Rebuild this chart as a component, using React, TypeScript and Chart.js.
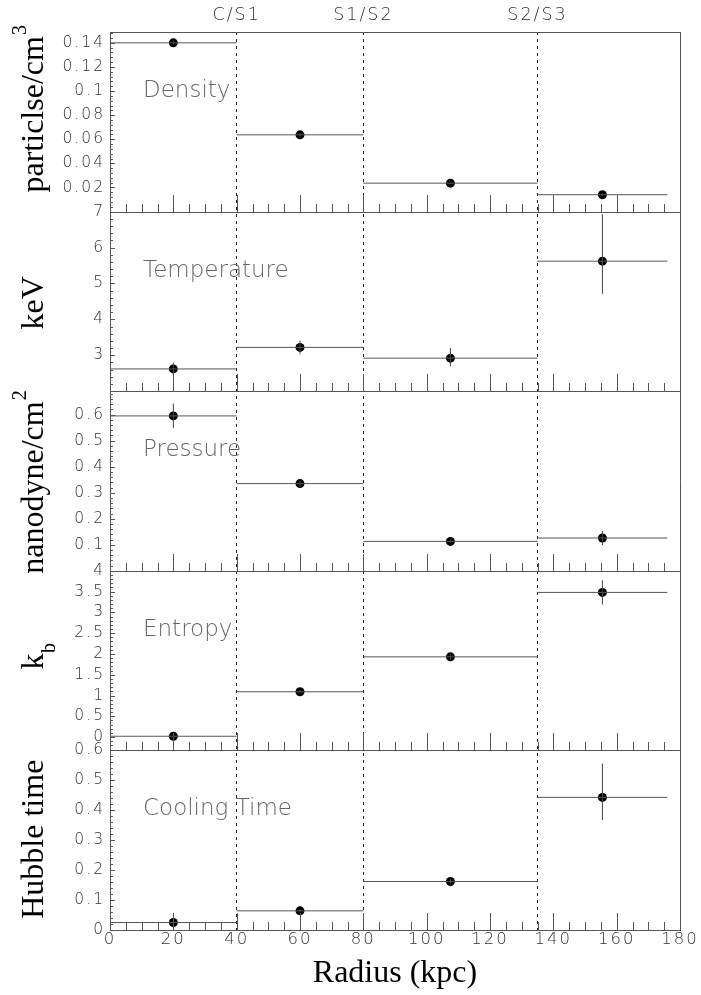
import { useEffect, useRef } from 'react';
import { Chart, registerables } from 'chart.js';

Chart.register(...registerables);

// ---------- data ----------
const binEdges = [0, 40, 80, 135, 176];
const binCenters = [20, 60, 107.5, 155.5];
const boundaryPositions = [40, 80, 135];
const boundaryLabels = ['C/S1', 'S1/S2', 'S2/S3'];
const xTickValues = [0, 20, 40, 60, 80, 100, 120, 140, 160, 180];

const densityValues = [0.14, 0.0637, 0.0236, 0.014];
const densityErrUp = [0.002, 0.0015, 0.001, 0.001];
const densityErrDown = [0.002, 0.0015, 0.001, 0.001];
const densityTicks = [0.02, 0.04, 0.06, 0.08, 0.1, 0.12, 0.14];

const temperatureValues = [2.62, 3.22, 2.92, 5.62];
const temperatureErrUp = [0.18, 0.19, 0.28, 1.31];
const temperatureErrDown = [0.18, 0.19, 0.23, 0.91];
const temperatureTicks = [3, 4, 5, 6, 7];

const pressureValues = [0.595, 0.335, 0.113, 0.126];
const pressureErrUp = [0.047, 0.012, 0.006, 0.027];
const pressureErrDown = [0.047, 0.012, 0.006, 0.027];
const pressureTicks = [0.1, 0.2, 0.3, 0.4, 0.5, 0.6];

const entropyValues = [0.02, 1.09, 1.93, 3.48];
const entropyErrUp = [0.03, 0.04, 0.07, 0.29];
const entropyErrDown = [0.03, 0.04, 0.07, 0.29];
const entropyTicks = [0, 0.5, 1, 1.5, 2, 2.5, 3, 3.5, 4];

const coolingValues = [0.025, 0.064, 0.162, 0.443];
const coolingErrUp = [0.004, 0.005, 0.008, 0.113];
const coolingErrDown = [0.004, 0.005, 0.008, 0.076];
const coolingTicks = [0, 0.1, 0.2, 0.3, 0.4, 0.5, 0.6];

type Panel = {
  id: string;
  label: string;
  title: string;
  sup: string;
  sub: string;
  values: number[];
  up: number[];
  down: number[];
  ticks: number[];
  min: number;
  max: number;
  weight: number;
  titleShift: number;
};

const panels: Panel[] = [
  { id: 'y', label: 'Density', title: 'particlse/cm', sup: '3', sub: '', values: densityValues, up: densityErrUp, down: densityErrDown, ticks: densityTicks, min: 0, max: 0.149, weight: 5, titleShift: -13 },
  { id: 'yT', label: 'Temperature', title: 'keV', sup: '', sub: '', values: temperatureValues, up: temperatureErrUp, down: temperatureErrDown, ticks: temperatureTicks, min: 2, max: 7, weight: 4, titleShift: 1.5 },
  { id: 'yP', label: 'Pressure', title: 'nanodyne/cm', sup: '2', sub: '', values: pressureValues, up: pressureErrUp, down: pressureErrDown, ticks: pressureTicks, min: 0, max: 0.69, weight: 3, titleShift: 1 },
  { id: 'yE', label: 'Entropy', title: 'k', sup: '', sub: 'b', values: entropyValues, up: entropyErrUp, down: entropyErrDown, ticks: entropyTicks, min: -0.32, max: 4, weight: 2, titleShift: -4.5 },
  { id: 'yC', label: 'Cooling Time', title: 'Hubble time', sup: '', sub: '', values: coolingValues, up: coolingErrUp, down: coolingErrDown, ticks: coolingTicks, min: 0, max: 0.6, weight: 1, titleShift: -1 },
];

// ---------- styles ----------
const AXIS_COLOR = '#555';
const LABEL_COLOR = '#333';
const TICK_FONT = 'DejaVu Sans';
const SERIF = '"Liberation Serif", "Times New Roman", serif';

const fmt = (v: number) => String(Number(v.toFixed(4)));

const binLineData = (vals: number[]) =>
  vals.flatMap((v, i) => [
    { x: binEdges[i], y: v },
    { x: binEdges[i + 1], y: v },
    { x: binEdges[i + 1], y: null as any },
  ]);

const errLineData = (vals: number[], up: number[], down: number[]) =>
  vals.flatMap((v, i) => [
    { x: binCenters[i], y: v - down[i] },
    { x: binCenters[i], y: v + up[i] },
    { x: binCenters[i], y: null as any },
  ]);

const decorPlugin = {
  id: 'decor',
  beforeDraw(chart: any) {
    chart.ctx.letterSpacing = '2px';
  },
  afterDraw(chart: any) {
    const { ctx, chartArea: ca, scales } = chart;
    const xs = scales.x;
    ctx.save();
    ctx.letterSpacing = '0px';

    // frame: panel separators + right edge
    ctx.strokeStyle = AXIS_COLOR;
    ctx.lineWidth = 1;
    ctx.beginPath();
    panels.forEach((p) => {
      const s = scales[p.id];
      const y = Math.round(s.top) + 0.5;
      ctx.moveTo(ca.left, y);
      ctx.lineTo(ca.right, y);
    });
    const rx = Math.round(ca.right) + 0.5;
    ctx.moveTo(rx, ca.top);
    ctx.lineTo(rx, ca.bottom + 0.5);
    ctx.stroke();

    // x ticks inside each panel (pointing up from the panel bottom)
    ctx.beginPath();
    panels.forEach((p) => {
      const s = scales[p.id];
      const yb = Math.round(s.bottom);
      for (let v = xs.min; v <= xs.max + 1e-9; v += 5) {
        const major = xTickValues.some((t) => Math.abs(t - v) < 1e-9);
        const len = major ? 17 : 8;
        const x = Math.round(xs.getPixelForValue(v)) + 0.5;
        ctx.moveTo(x, yb);
        ctx.lineTo(x, yb - len);
      }
    });
    ctx.stroke();

    // y ticks inside (pointing right)
    ctx.beginPath();
    panels.forEach((p) => {
      const s = scales[p.id];
      const step = p.ticks[1] - p.ticks[0];
      const m = step / 5;
      const start = Math.ceil(s.min / m - 1e-6);
      for (let k = start; k * m <= s.max + 1e-9; k++) {
        const v = k * m;
        const major = p.ticks.some((t) => Math.abs(t - v) < m * 0.01);
        const len = major ? 5 : 3;
        const y = Math.round(s.getPixelForValue(v)) + 0.5;
        ctx.moveTo(ca.left, y);
        ctx.lineTo(ca.left + len, y);
      }
    });
    ctx.stroke();

    // panel labels
    ctx.fillStyle = '#666';
    ctx.font = `300 23px "${TICK_FONT}"`;
    ctx.textAlign = 'left';
    ctx.textBaseline = 'alphabetic';
    panels.forEach((p) => {
      const s = scales[p.id];
      ctx.fillText(p.label, ca.left + 33, s.top + 65);
    });

    // y titles (rotated)
    ctx.fillStyle = '#000';
    panels.forEach((p) => {
      const s = scales[p.id];
      const cy = (s.top + s.bottom) / 2 + p.titleShift;
      ctx.save();
      ctx.translate(43, cy);
      ctx.rotate(-Math.PI / 2);
      ctx.font = `32px ${SERIF}`;
      const mainW = ctx.measureText(p.title).width;
      ctx.font = `20px ${SERIF}`;
      const extra = p.sup || p.sub;
      const extraW = extra ? ctx.measureText(extra).width + 1 : 0;
      const total = mainW + extraW;
      const x0 = -total / 2;
      ctx.textAlign = 'left';
      ctx.textBaseline = 'alphabetic';
      ctx.font = `32px ${SERIF}`;
      ctx.fillText(p.title, x0, 0);
      if (p.sup) {
        ctx.font = `20px ${SERIF}`;
        ctx.fillText(p.sup, x0 + mainW + 1, -17);
      }
      if (p.sub) {
        ctx.font = `20px ${SERIF}`;
        ctx.fillText(p.sub, x0 + mainW + 0.5, 12);
      }
      ctx.restore();
    });

    // x title
    ctx.font = `32px ${SERIF}`;
    ctx.textAlign = 'center';
    ctx.textBaseline = 'alphabetic';
    ctx.fillText('Radius (kpc)', (ca.left + ca.right) / 2, 982);

    ctx.restore();
  },
};

export default function App() {
  const ref = useRef<HTMLCanvasElement>(null);

  useEffect(() => {
    const datasets: any[] = [];
    panels.forEach((p) => {
      datasets.push({
        type: 'scatter',
        data: binLineData(p.values),
        xAxisID: 'x',
        yAxisID: p.id,
        showLine: true,
        spanGaps: false,
        borderColor: '#555',
        borderWidth: 1,
        pointRadius: 0,
      });
      datasets.push({
        type: 'scatter',
        data: errLineData(p.values, p.up, p.down),
        xAxisID: 'x',
        yAxisID: p.id,
        showLine: true,
        spanGaps: false,
        borderColor: '#444',
        borderWidth: 1,
        pointRadius: 0,
      });
      datasets.push({
        type: 'scatter',
        data: p.values.map((v, i) => ({ x: binCenters[i], y: v })),
        xAxisID: 'x',
        yAxisID: p.id,
        pointRadius: 4.5,
        pointBackgroundColor: '#000',
        pointBorderColor: '#000',
        pointBorderWidth: 0,
      });
    });

    const scales: any = {
      x: {
        type: 'linear',
        position: 'bottom',
        min: 0,
        max: 180,
        afterBuildTicks: (s: any) => {
          s.ticks = xTickValues.map((v) => ({ value: v }));
        },
        afterFit: (s: any) => {
          s.height = 65;
        },
        grid: { display: false, drawTicks: false },
        border: { display: true, color: AXIS_COLOR, width: 1 },
        ticks: {
          font: { family: TICK_FONT, size: 16.5, weight: '300' },
          color: LABEL_COLOR,
          padding: 0,
          maxRotation: 0,
          autoSkip: false,
          callback: (v: any) => fmt(Number(v)),
        },
      },
      x2: {
        type: 'linear',
        position: 'top',
        min: 0,
        max: 180,
        afterBuildTicks: (s: any) => {
          s.ticks = boundaryPositions.map((v) => ({ value: v }));
        },
        afterFit: (s: any) => {
          s.height = 32;
        },
        grid: { display: true, drawOnChartArea: true, drawTicks: false, color: '#222', lineWidth: 1 },
        border: { display: false, dash: [3, 4] },
        ticks: {
          font: { family: TICK_FONT, size: 17.5, weight: '300' },
          color: LABEL_COLOR,
          padding: 6,
          maxRotation: 0,
          autoSkip: false,
          callback: (_v: any, i: number) => boundaryLabels[i],
        },
      },
    };

    panels.forEach((p) => {
      scales[p.id] = {
        type: 'linear',
        position: 'left',
        stack: 'panels',
        stackWeight: 1,
        weight: p.weight,
        min: p.min,
        max: p.max,
        offset: false,
        afterBuildTicks: (s: any) => {
          s.ticks = p.ticks.map((v) => ({ value: v }));
        },
        afterFit: (s: any) => {
          s.width = 110;
        },
        grid: { display: false, drawTicks: false },
        border: { display: true, color: AXIS_COLOR, width: 1 },
        ticks: {
          font: { family: TICK_FONT, size: 15.5, weight: '300' },
          color: LABEL_COLOR,
          padding: 5,
          autoSkip: false,
          callback: (v: any) => fmt(Number(v)),
        },
      };
    });

    const chart = new Chart(ref.current as HTMLCanvasElement, {
      type: 'scatter',
      data: { datasets },
      options: {
        responsive: false,
        devicePixelRatio: 1,
        animation: false,
        events: [],
        layout: { padding: { left: 0, right: 21, top: 0, bottom: 0 } },
        plugins: { legend: { display: false }, tooltip: { enabled: false } },
        scales,
      },
      plugins: [decorPlugin],
    } as any);

    return () => chart.destroy();
  }, []);

  return (
    <div style={{ position: 'absolute', left: 0, top: 0, width: 701, height: 995, background: '#fff' }}>
      <canvas ref={ref} width={701} height={995} style={{ width: 701, height: 995, display: 'block' }} />
    </div>
  );
}
